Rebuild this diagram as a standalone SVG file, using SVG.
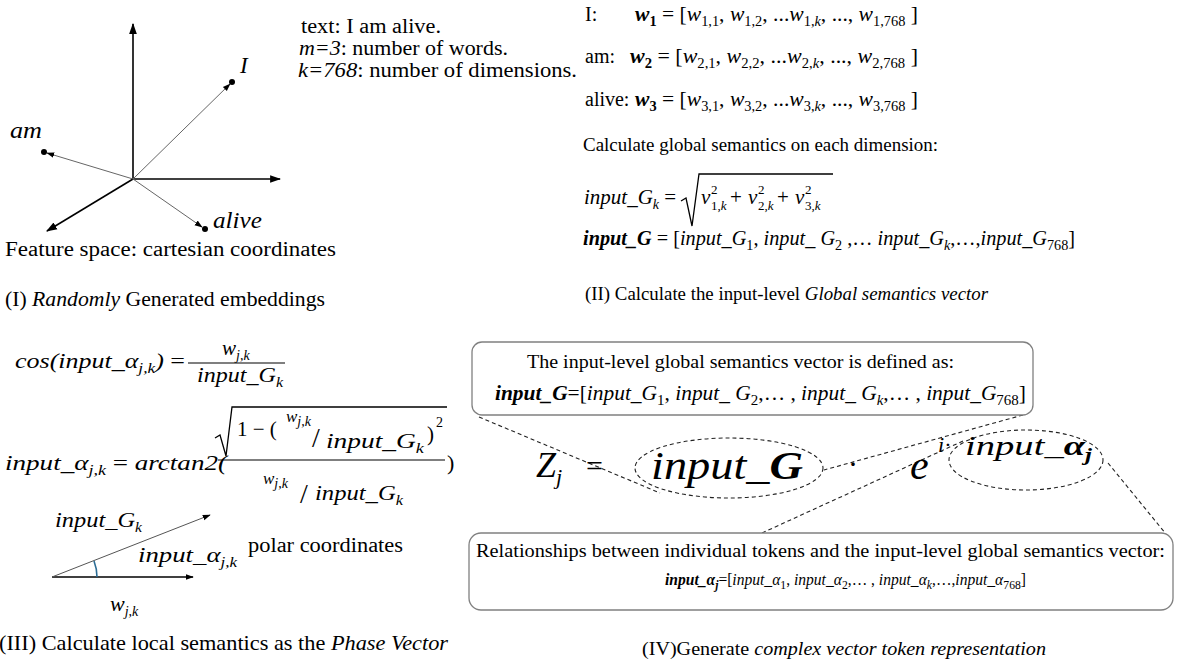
<svg xmlns="http://www.w3.org/2000/svg" width="1184" height="666" viewBox="0 0 1184 666" font-family="'Liberation Serif', 'Times New Roman', 'DejaVu Serif', serif">
<defs>
<style>
text{font-family:"Liberation Serif","Times New Roman","DejaVu Serif",serif;fill:#000}
.m{font-style:italic}
.s{font-size:14px}
.i{font-style:italic}
.n{font-style:normal}
.b{font-weight:bold}
.ax{stroke:#000;stroke-width:1.6;fill:none}
.vec{stroke:#666;stroke-width:1;fill:none}
.dash{stroke:#222;stroke-width:1.1;stroke-dasharray:4 3;fill:none}
.box{fill:#fff;stroke:#808080;stroke-width:1.3}
</style>
<marker id="ah" viewBox="0 0 10 10" refX="9" refY="5" markerWidth="11" markerHeight="11" markerUnits="userSpaceOnUse" orient="auto"><path d="M0,1.5 L10,5 L0,8.5 z" fill="#000"/></marker>
<marker id="ahs" viewBox="0 0 10 10" refX="9" refY="5" markerWidth="8" markerHeight="8" markerUnits="userSpaceOnUse" orient="auto"><path d="M0,1.5 L10,5 L0,8.5 z" fill="#000"/></marker>
</defs>
<rect width="1184" height="666" fill="#fff"/>

<g id="feature-space">
<line class="ax" x1="133" y1="179" x2="133" y2="24" marker-end="url(#ah)"/>
<line class="ax" x1="133" y1="179" x2="280" y2="179" marker-end="url(#ah)"/>
<line class="ax" x1="133" y1="179" x2="47" y2="231" marker-end="url(#ah)"/>
<line class="vec" x1="133" y1="179" x2="230" y2="84" marker-end="url(#ahs)"/>
<circle cx="232" cy="82" r="3"/>
<line class="vec" x1="133" y1="179" x2="47" y2="153" marker-end="url(#ahs)"/>
<circle cx="44" cy="152" r="3"/>
<line class="vec" x1="133" y1="179" x2="202" y2="227" marker-end="url(#ahs)"/>
<circle cx="205" cy="229" r="3"/>
<text class="m" x="240" y="73" font-size="23">I</text>
<text class="m" x="10" y="138" font-size="23" textLength="32" lengthAdjust="spacingAndGlyphs">am</text>
<text class="m" x="213" y="228" font-size="23" textLength="49" lengthAdjust="spacingAndGlyphs">alive</text>
<text x="5" y="256" font-size="20" textLength="331" lengthAdjust="spacingAndGlyphs">Feature space: cartesian coordinates</text>
<text x="5" y="306" font-size="21" textLength="320" lengthAdjust="spacingAndGlyphs">(I) <tspan class="i">Randomly</tspan> Generated embeddings</text>
</g>

<g id="text-info">
<text x="301" y="33" font-size="20" textLength="140" lengthAdjust="spacingAndGlyphs">text: I am alive.</text>
<text x="299" y="55" font-size="20" textLength="209" lengthAdjust="spacingAndGlyphs"><tspan class="i">m=3</tspan>: number of words.</text>
<text x="298" y="77" font-size="20" textLength="279" lengthAdjust="spacingAndGlyphs"><tspan class="i">k=768</tspan>: number of dimensions.</text>
</g>

<g id="word-vectors">
<text x="585" y="21" font-size="20">I:</text>
<text x="585" y="63" font-size="20">am:</text>
<text x="585" y="106" font-size="20">alive:</text>
<text class="m" x="635" y="21" font-size="21" textLength="283" lengthAdjust="spacingAndGlyphs"><tspan class="b">w</tspan><tspan class="s b n" dy="5">1</tspan><tspan class="n" dy="-5"> = [</tspan>w<tspan class="s n" dy="5">1,1</tspan><tspan class="n" dy="-5">, </tspan>w<tspan class="s n" dy="5">1,2</tspan><tspan class="n" dy="-5">, ...</tspan>w<tspan class="s" dy="5"><tspan class="n">1,</tspan>k</tspan><tspan class="n" dy="-5">, ..., </tspan>w<tspan class="s n" dy="5">1,768</tspan><tspan class="n" dy="-5"> ]</tspan></text>
<text class="m" x="630" y="63" font-size="21" textLength="288" lengthAdjust="spacingAndGlyphs"><tspan class="b">w</tspan><tspan class="s b n" dy="5">2</tspan><tspan class="n" dy="-5"> = [</tspan>w<tspan class="s n" dy="5">2,1</tspan><tspan class="n" dy="-5">, </tspan>w<tspan class="s n" dy="5">2,2</tspan><tspan class="n" dy="-5">, ...</tspan>w<tspan class="s" dy="5"><tspan class="n">2,</tspan>k</tspan><tspan class="n" dy="-5">, ..., </tspan>w<tspan class="s n" dy="5">2,768</tspan><tspan class="n" dy="-5"> ]</tspan></text>
<text class="m" x="635" y="106" font-size="21" textLength="283" lengthAdjust="spacingAndGlyphs"><tspan class="b">w</tspan><tspan class="s b n" dy="5">3</tspan><tspan class="n" dy="-5"> = [</tspan>w<tspan class="s n" dy="5">3,1</tspan><tspan class="n" dy="-5">, </tspan>w<tspan class="s n" dy="5">3,2</tspan><tspan class="n" dy="-5">, ...</tspan>w<tspan class="s" dy="5"><tspan class="n">3,</tspan>k</tspan><tspan class="n" dy="-5">, ..., </tspan>w<tspan class="s n" dy="5">3,768</tspan><tspan class="n" dy="-5"> ]</tspan></text>
</g>

<g id="global-semantics">
<text x="583" y="151" font-size="19" textLength="355" lengthAdjust="spacingAndGlyphs">Calculate global semantics on each dimension:</text>
<text class="m" x="584" y="204" font-size="21">input_G<tspan class="s" dy="5">k</tspan><tspan class="n" dy="-5"> =</tspan></text>
<path d="M681,201 L686,198 L692,226 L699,174 L833,174" fill="none" stroke="#000" stroke-width="1.3"/>
<text class="m" x="701" y="204" font-size="21">v</text>
<text x="711" y="194" font-size="13">2</text>
<text x="711" y="210" font-size="13">1,<tspan class="i">k</tspan></text>
<text x="730" y="204" font-size="21">+</text>
<text class="m" x="748" y="204" font-size="21">v</text>
<text x="758" y="194" font-size="13">2</text>
<text x="758" y="210" font-size="13">2,<tspan class="i">k</tspan></text>
<text x="777" y="204" font-size="21">+</text>
<text class="m" x="795" y="204" font-size="21">v</text>
<text x="805" y="194" font-size="13">2</text>
<text x="805" y="210" font-size="13">3,<tspan class="i">k</tspan></text>
<text class="m" x="583" y="245" font-size="20" textLength="492" lengthAdjust="spacingAndGlyphs"><tspan class="b">input_G</tspan><tspan class="n"> = [</tspan>input_G<tspan class="s n" dy="5">1</tspan><tspan class="n" dy="-5">, </tspan>input_ G<tspan class="s n" dy="5">2</tspan><tspan class="n" dy="-5"> ,… </tspan>input_G<tspan class="s" dy="5">k</tspan><tspan class="n" dy="-5">,…,</tspan>input_G<tspan class="s n" dy="5">768</tspan><tspan class="n" dy="-5">]</tspan></text>
<text x="585" y="300" font-size="19" textLength="403" lengthAdjust="spacingAndGlyphs">(II) Calculate the input-level <tspan class="i">Global semantics vector</tspan></text>
</g>

<g id="phase-vector">
<text class="m" x="15" y="368" font-size="21" textLength="170" lengthAdjust="spacingAndGlyphs">cos(input_α<tspan class="s" dy="5">j,k</tspan><tspan dy="-5">) </tspan><tspan class="n">=</tspan></text>
<text class="m" x="222" y="355" font-size="21">w<tspan class="s" dy="5">j,k</tspan></text>
<line x1="188" y1="363" x2="285" y2="363" stroke="#000" stroke-width="1.2"/>
<text class="m" x="197" y="382" font-size="21" textLength="86" lengthAdjust="spacingAndGlyphs">input_G<tspan class="s" dy="5">k</tspan></text>

<text class="m" x="5" y="470" font-size="21" textLength="222" lengthAdjust="spacingAndGlyphs">input_α<tspan class="s" dy="5">j,k</tspan><tspan class="n" dy="-5"> = </tspan>arctan2(</text>
<path d="M215,438 L220,435 L226,456 L232,407 L447,407" fill="none" stroke="#000" stroke-width="1.3"/>
<text x="237" y="436" font-size="21">1 − (</text>
<text class="m" x="286" y="422" font-size="17">w<tspan class="s" dy="4">j,k</tspan></text>
<text x="312" y="447" font-size="28">/</text>
<text class="m" x="326" y="448" font-size="21" textLength="98" lengthAdjust="spacingAndGlyphs">input_G<tspan class="s" dy="5">k</tspan></text>
<text x="427" y="441" font-size="21">)</text>
<text x="436" y="427" font-size="14">2</text>
<line x1="218" y1="460" x2="445" y2="460" stroke="#000" stroke-width="1.2"/>
<text class="m" x="263" y="484" font-size="17">w<tspan class="s" dy="4">j,k</tspan></text>
<text x="300" y="503" font-size="28">/</text>
<text class="m" x="315" y="500" font-size="21" textLength="88" lengthAdjust="spacingAndGlyphs">input_G<tspan class="s" dy="5">k</tspan></text>
<text x="447" y="470" font-size="22">)</text>

<line x1="52" y1="577" x2="193" y2="577" stroke="#000" stroke-width="1.3" marker-end="url(#ahs)"/>
<line x1="52" y1="577" x2="210" y2="515" stroke="#555" stroke-width="1" marker-end="url(#ahs)"/>
<path d="M97,577 A45,45 0 0 0 94,561" fill="none" stroke="#2b6c95" stroke-width="1.6"/>
<text class="m" x="55" y="527" font-size="22" textLength="87" lengthAdjust="spacingAndGlyphs">input_G<tspan class="s" dy="5">k</tspan></text>
<text class="m" x="138" y="562" font-size="22" textLength="99" lengthAdjust="spacingAndGlyphs">input_α<tspan class="s" dy="5">j,k</tspan></text>
<text x="248" y="552" font-size="20" textLength="155" lengthAdjust="spacingAndGlyphs">polar coordinates</text>
<text class="m" x="110" y="611" font-size="22">w<tspan class="s" dy="5">j,k</tspan></text>
<text x="-1" y="650" font-size="21" textLength="449" lengthAdjust="spacingAndGlyphs">(III) Calculate local semantics as the <tspan class="i">Phase Vector</tspan></text>
</g>

<g id="connectors">
<line class="dash" x1="479" y1="417" x2="660" y2="493"/>
<line class="dash" x1="1023" y1="415" x2="824" y2="470"/>
<line class="dash" x1="762" y1="533" x2="963" y2="441"/>
<line class="dash" x1="1108" y1="463" x2="1166" y2="534"/>
</g>

<g id="global-box">
<rect class="box" x="472" y="342" width="561" height="73" rx="10"/>
<text x="527" y="368" font-size="18" textLength="427" lengthAdjust="spacingAndGlyphs">The input-level global semantics vector is defined as:</text>
<text class="m" x="495" y="400" font-size="20" textLength="531" lengthAdjust="spacingAndGlyphs"><tspan class="b">input_G</tspan><tspan class="n">=[</tspan>input_G<tspan class="s n" dy="5">1</tspan><tspan class="n" dy="-5">, </tspan>input_ G<tspan class="s n" dy="5">2</tspan><tspan class="n" dy="-5">,… , </tspan>input_ G<tspan class="s" dy="5">k</tspan><tspan class="n" dy="-5">,… , </tspan>input_G<tspan class="s n" dy="5">768</tspan><tspan class="n" dy="-5">]</tspan></text>
</g>

<g id="complex-formula">
<text class="m" x="536" y="477" font-size="36">Z<tspan font-size="22" dy="7">j</tspan></text>
<text x="586" y="476" font-size="30">=</text>
<ellipse cx="729" cy="468" rx="94" ry="30" class="dash"/>
<text class="m" x="651" y="479" font-size="40" textLength="152" lengthAdjust="spacingAndGlyphs">input_<tspan class="b">G</tspan></text>
<text x="848" y="474" font-size="30">·</text>
<text class="m" x="910" y="479" font-size="42">e</text>
<text class="m" x="938" y="452" font-size="22">i<tspan class="n">·</tspan></text>
<ellipse cx="1026" cy="460" rx="77" ry="30" class="dash"/>
<text class="m" x="965" y="455" font-size="28" textLength="127" lengthAdjust="spacingAndGlyphs">input_<tspan class="b">α</tspan><tspan class="b" font-size="18" dy="6">j</tspan></text>
</g>

<g id="phase-box">
<rect class="box" x="469" y="533" width="704" height="77" rx="12"/>
<text x="476" y="557" font-size="18" textLength="689" lengthAdjust="spacingAndGlyphs">Relationships between individual tokens and the input-level global semantics vector:</text>
<text class="m" x="665" y="585" font-size="16" textLength="361" lengthAdjust="spacingAndGlyphs"><tspan class="b">input_α<tspan font-size="12" dy="4">j</tspan></tspan><tspan class="n" dy="-4">=[</tspan>input_α<tspan font-size="12" class="n" dy="4">1</tspan><tspan class="n" dy="-4">, </tspan>input_α<tspan font-size="12" class="n" dy="4">2</tspan><tspan class="n" dy="-4">,… , </tspan>input_α<tspan font-size="12" dy="4">k</tspan><tspan class="n" dy="-4">,…,</tspan>input_α<tspan font-size="12" class="n" dy="4">768</tspan><tspan class="n" dy="-4">]</tspan></text>
<text x="642" y="655" font-size="19" textLength="404" lengthAdjust="spacingAndGlyphs">(IV)Generate <tspan class="i">complex vector token representation</tspan></text>
</g>
</svg>
